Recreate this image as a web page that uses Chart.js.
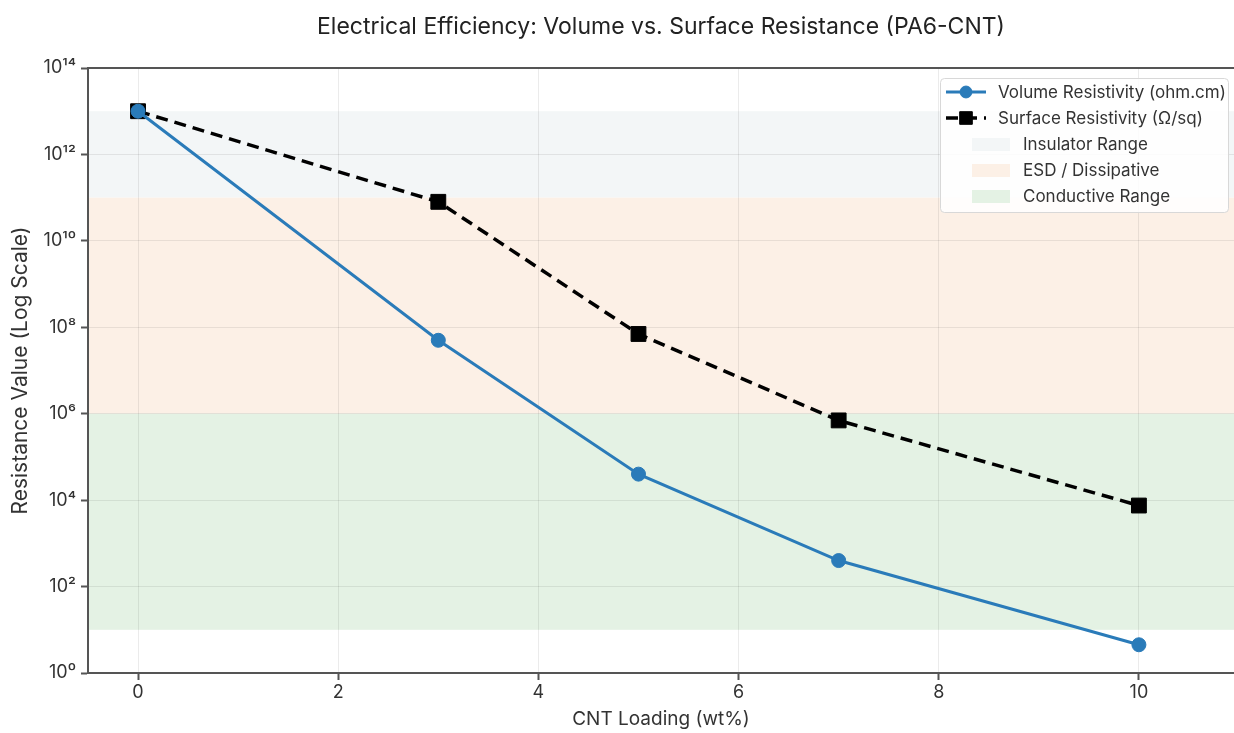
<!DOCTYPE html>
<html>
<head>
<meta charset="utf-8">
<script src="https://cdn.jsdelivr.net/npm/chart.js@4"></script>
<style>
  body { margin: 0; background: #fff; }
</style>
</head>
<body>
<canvas id="chart" width="1234" height="733"></canvas>
<script>
const loading = [0, 3, 5, 7, 10];
const volumeRes = [1e13, 5e7, 4e4, 4e2, 4.5];
const surfaceRes = [1e13, 8e10, 7e7, 7e5, 7.5e3];

const xTicks = [0, 2, 4, 6, 8, 10];
const yTicks = [1, 1e2, 1e4, 1e6, 1e8, 1e10, 1e12, 1e14];

const bandLabels = ['Insulator Range', 'ESD / Dissipative', 'Conductive Range'];
const bandLow = [1e11, 1e6, 1e1];
const bandHigh = [1e13, 1e11, 1e6];
const bandColors = ['rgb(243, 246, 247)', 'rgb(252, 240, 230)', 'rgb(228, 242, 228)'];

const TITLE = 'Electrical Efficiency: Volume vs. Surface Resistance (PA6-CNT)';
const FONT = 'Inter, "Open Sans", sans-serif';
const sup = '⁰¹²³⁴⁵⁶⁷⁸⁹';
const toSup = (n) => String(n).split('').map((d) => sup[+d]).join('');

// shaded ranges, drawn under the grid
const bandsPlugin = {
  id: 'bands',
  beforeDraw(chart) {
    const { ctx, chartArea, scales } = chart;
    ctx.save();
    bandLabels.forEach((_, i) => {
      const top = scales.y.getPixelForValue(bandHigh[i]);
      const bottom = scales.y.getPixelForValue(bandLow[i]);
      ctx.fillStyle = bandColors[i];
      ctx.fillRect(chartArea.left, top, chartArea.right - chartArea.left, bottom - top);
    });
    ctx.restore();
  },
};

// title over the plot area, top spine, legend
const framePlugin = {
  id: 'frame',
  afterDraw(chart) {
    const { ctx, chartArea } = chart;
    ctx.save();
    ctx.fillStyle = '#222';
    ctx.font = '23px ' + FONT;
    ctx.textAlign = 'center';
    ctx.textBaseline = 'middle';
    ctx.fillText(TITLE, (chartArea.left + chartArea.right) / 2, 27);

    ctx.strokeStyle = '#555';
    ctx.lineWidth = 2;
    ctx.beginPath();
    ctx.moveTo(chartArea.left, chartArea.top);
    ctx.lineTo(chartArea.right, chartArea.top);
    ctx.stroke();

    const w = 288, h = 134;
    const left = chartArea.right - w - 6;
    const top = chartArea.top + 10;
    ctx.fillStyle = 'rgba(255,255,255,0.85)';
    ctx.strokeStyle = '#d8d8d8';
    ctx.lineWidth = 1;
    ctx.beginPath();
    ctx.roundRect(left + 0.5, top + 0.5, w, h, 4);
    ctx.fill();
    ctx.stroke();

    ctx.font = '17px ' + FONT;
    ctx.textAlign = 'left';

    chart.data.datasets.forEach((ds, i) => {
      const y = top + 14 + i * 26;
      ctx.save();
      ctx.strokeStyle = ds.borderColor;
      ctx.lineWidth = ds.borderWidth;
      ctx.setLineDash(ds.borderDash || []);
      ctx.beginPath();
      ctx.moveTo(left + 6, y);
      ctx.lineTo(left + 46, y);
      ctx.stroke();
      ctx.restore();
      ctx.fillStyle = ds.pointBackgroundColor;
      ctx.strokeStyle = ds.pointBorderColor;
      ctx.lineWidth = 1;
      Chart.helpers.drawPoint(ctx, {
        pointStyle: ds.pointStyle, radius: ds.pointRadius * 0.85, borderWidth: 1,
      }, left + 26, y);
      ctx.fillStyle = '#333';
      ctx.fillText(ds.label, left + 58, y + 1);
    });

    bandLabels.forEach((label, i) => {
      const y = top + 14 + (i + 2) * 26;
      ctx.fillStyle = bandColors[i];
      ctx.fillRect(left + 32, y - 6, 38, 13);
      ctx.fillStyle = '#333';
      ctx.fillText(label, left + 83, y + 1);
    });
    ctx.restore();
  },
};

const chartData = {
  datasets: [
    {
      label: 'Volume Resistivity (ohm.cm)',
      data: loading.map((x, i) => ({ x, y: volumeRes[i] })),
      borderColor: '#2a7bb9',
      borderWidth: 3,
      pointStyle: 'circle',
      pointRadius: 7,
      pointBackgroundColor: '#2a7bb9',
      pointBorderColor: '#2a7bb9',
      pointBorderWidth: 1,
    },
    {
      label: 'Surface Resistivity (Ω/sq)',
      data: loading.map((x, i) => ({ x, y: surfaceRes[i] })),
      borderColor: '#000',
      borderWidth: 3.5,
      borderDash: [12, 7],
      pointStyle: 'rect',
      pointRadius: 10.5,
      pointBackgroundColor: '#000',
      pointBorderColor: '#000',
      pointBorderWidth: 1,
    },
  ],
};

const chartConfig = {
  type: 'line',
  data: chartData,
  plugins: [bandsPlugin, framePlugin],
  options: {
    responsive: false,
    animation: false,
    layout: { autoPadding: false, padding: { left: 0, right: 0, top: 68, bottom: 0 } },
    scales: {
      x: {
        type: 'linear',
        min: -0.5,
        max: 10.95,
        afterBuildTicks: (scale) => { scale.ticks = xTicks.map((v) => ({ value: v })); },
        afterFit: (scale) => {
          scale.height = 60;
          scale.paddingLeft = 0;
          scale.paddingRight = 0;
        },
        ticks: { color: '#333', font: { family: FONT, size: 18 }, padding: 2 },
        grid: { color: 'rgba(0,0,0,0.08)', tickColor: '#555', tickWidth: 2, tickLength: 7, lineWidth: 1 },
        border: { color: '#555', width: 2 },
        title: {
          display: true, text: 'CNT Loading (wt%)', color: '#333',
          font: { family: FONT, size: 19 }, padding: { top: 0, bottom: 2 },
        },
      },
      y: {
        type: 'logarithmic',
        min: 1,
        max: 1e14,
        afterBuildTicks: (scale) => { scale.ticks = yTicks.map((v) => ({ value: v })); },
        afterFit: (scale) => {
          scale.width = 88;
          scale.paddingTop = 0;
          scale.paddingBottom = 0;
        },
        ticks: {
          color: '#333', font: { family: FONT, size: 18 }, padding: 5,
          callback: (v) => '10' + toSup(Math.round(Math.log10(v))),
        },
        grid: { color: 'rgba(0,0,0,0.08)', tickColor: '#555', tickWidth: 2, tickLength: 7, lineWidth: 1 },
        border: { color: '#555', width: 2 },
        title: {
          display: true, text: 'Resistance Value (Log Scale)', color: '#333',
          font: { family: FONT, size: 21 }, padding: { top: 8, bottom: 0 },
        },
      },
    },
    plugins: {
      legend: { display: false },
      tooltip: { enabled: false },
      title: { display: false },
    },
  },
};

const chart = new Chart(document.getElementById('chart'), chartConfig);
</script>
</body>
</html>
